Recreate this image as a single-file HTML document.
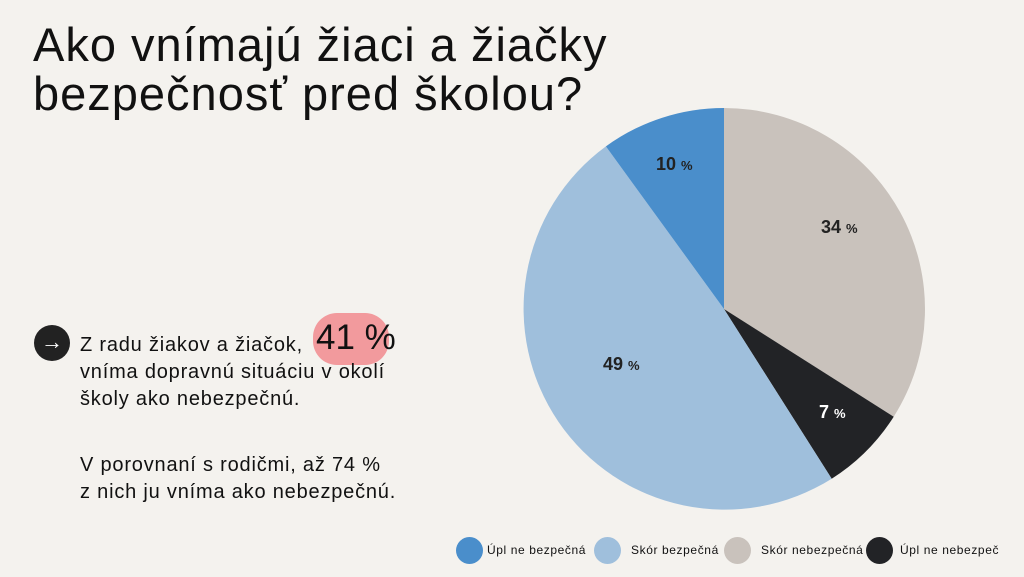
<!DOCTYPE html>
<html><head><meta charset="utf-8"><style>
body{margin:0;width:1024px;height:577px;background:#f4f2ee;position:relative;overflow:hidden;font-family:"Liberation Sans",sans-serif;color:#111}
.t{position:absolute;left:33px;top:20px;font-size:47px;line-height:49px;letter-spacing:1.0px}
.p{position:absolute;left:80px;font-size:20px;line-height:27px;letter-spacing:0.8px}
.arr{position:absolute;left:34px;top:325px;width:36px;height:36px;border-radius:50%;background:#222;color:#fff;font-size:22px;text-align:center;line-height:34px}
.blob{position:absolute;left:313px;top:313px;width:76px;height:52px;background:#f29a9d;border-radius:24px}
.big{position:absolute;left:316px;top:318px;font-size:35px;line-height:40px}
.lg{position:absolute;top:537px;width:27px;height:27px;border-radius:50%}
.lt{position:absolute;top:543px;font-size:12px;letter-spacing:0.6px}
</style></head><body>
<div class="t">Ako vnímajú žiaci a žiačky<br>bezpečnosť pred školou?</div>
<div class="arr">→</div>
<div class="blob"></div>
<div class="big">41 %</div>
<div class="p" style="top:332px">Z radu žiakov a žiačok,<br>vníma dopravnú situáciu v okolí<br>školy ako nebezpečnú.</div>
<div class="p" style="top:452px">V porovnaní s rodičmi, až 74 %<br>z nich ju vníma ako nebezpečnú.</div>
<svg style="position:absolute;left:0;top:0" width="1024" height="577">
<path d="M724 309 L724 108 A201 201 0 0 1 893.7 416.7 Z" fill="#c9c2bc"/>
<path d="M724 309 L893.7 416.7 A201 201 0 0 1 831.7 478.7 Z" fill="#222326"/>
<path d="M724 309 L831.7 478.7 A201 201 0 0 1 605.9 146.4 Z" fill="#9fbfdc"/>
<path d="M724 309 L605.9 146.4 A201 201 0 0 1 724 108 Z" fill="#4a8ecb"/>
<g font-family="Liberation Sans" font-weight="bold" fill="#222">
<text x="656" y="170" font-size="18">10 <tspan font-size="13">%</tspan></text>
<text x="821" y="233" font-size="18">34 <tspan font-size="13">%</tspan></text>
<text x="603" y="370" font-size="18">49 <tspan font-size="13">%</tspan></text>
<text x="819" y="418" font-size="18" fill="#fff">7 <tspan font-size="13">%</tspan></text>
</g>
</svg>
<div class="lg" style="left:456px;background:#4a8ecb"></div><div class="lt" style="left:487px">Úpl ne bezpečná</div>
<div class="lg" style="left:594px;background:#9fbfdc"></div><div class="lt" style="left:631px">Skór bezpečná</div>
<div class="lg" style="left:724px;background:#c9c2bc"></div><div class="lt" style="left:761px">Skór nebezpečná</div>
<div class="lg" style="left:866px;background:#222326"></div><div class="lt" style="left:900px">Úpl ne nebezpeč</div>
</body></html>
